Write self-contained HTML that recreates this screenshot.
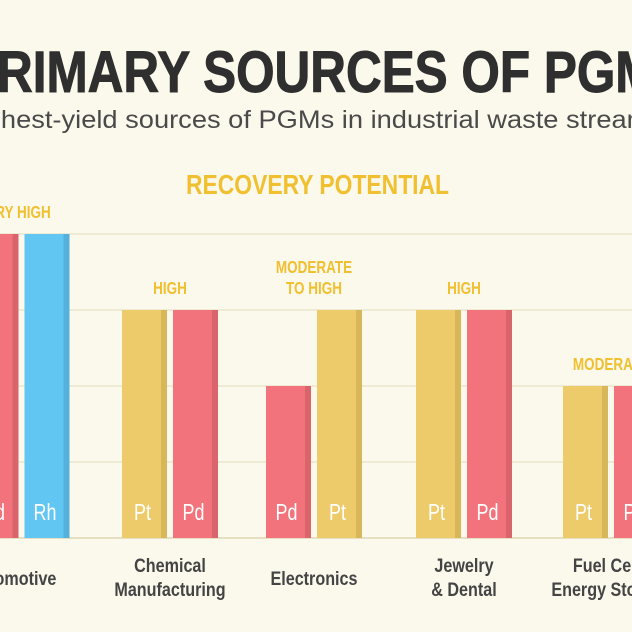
<!DOCTYPE html>
<html><head><meta charset="utf-8"><style>
html,body{margin:0;padding:0;background:#fbf8ec;}
svg{display:block}
</style></head><body>
<svg id="chart" width="632" height="632" viewBox="0 0 632 632">
<rect x="0" y="0" width="632" height="632" fill="#fbf8ec"/>
<text x="-36" y="92" textLength="720" lengthAdjust="spacingAndGlyphs" font-family="'Liberation Sans',sans-serif" font-weight="bold" font-size="58" fill="#2f2f2f" stroke="#2f2f2f" stroke-width="1">PRIMARY SOURCES OF PGMs</text>
<text x="-40" y="128" textLength="703" lengthAdjust="spacingAndGlyphs" font-family="'Liberation Sans',sans-serif" font-size="25" fill="#4a4a4a">Highest-yield sources of PGMs in industrial waste streams</text>
<text x="186" y="194" textLength="263" lengthAdjust="spacingAndGlyphs" font-family="'Liberation Sans',sans-serif" font-weight="bold" font-size="28" fill="#f0c030">RECOVERY POTENTIAL</text>
<g id="grid"></g><g id="bars"></g><g id="labels"></g>
</svg>
<script>
const categories = ["Automotive", "Chemical|Manufacturing", "Electronics", "Jewelry|& Dental", "Fuel Cells|Energy Storage"];
const metals = [["Pt","Pd","Rh"],["Pt","Pd"],["Pd","Pt"],["Pt","Pd"],["Pt","Pd"]];
const values = [[4,4,4],[3,3],[2,3],[3,3],[2,2]];
const potentials = ["VERY HIGH","HIGH","MODERATE|TO HIGH","HIGH","MODERATE"];
const gridTicks = [1,2,3,4];

const NS = "http://www.w3.org/2000/svg";
const baseY = 538, unit = 76, barW = 45, gap = 6, step = 147, firstC = 23;
const colors = {Pt:"#edcb6a", Pd:"#f2737b", Rh:"#62c6f2"};
const shade = {Pt:"#c9a950", Pd:"#c95a62", Rh:"#4aa3cc"};
const yS = v => baseY - v*unit;
const xC = i => firstC + i*step + (i===2 ? -3 : 0);
const mk = (t, a) => { const e = document.createElementNS(NS, t); for (const k in a) e.setAttribute(k, a[k]); return e; };
const squeeze = (el, x, s) => el.setAttribute("transform", "translate(" + x + ",0) scale(" + s + ",1) translate(" + (-x) + ",0)");
const grid = document.getElementById("grid"), bars = document.getElementById("bars"), labels = document.getElementById("labels");

gridTicks.forEach(t => {
  const l = mk("line", {x1:0, x2:632, y1:yS(t), y2:yS(t), stroke:"#ebe5cc", "stroke-width":1.5});
  
  
  grid.appendChild(l);
});
const base = mk("line", {x1:0, x2:632, y1:baseY, y2:baseY, stroke:"#e6dfc2", "stroke-width":2});


grid.appendChild(base);

categories.forEach((c, i) => {
  const n = metals[i].length, total = n*barW + (n-1)*gap;
  const x0 = xC(i) - total/2 + (i===0 ? -27 : 0);
  let maxV = 0;
  metals[i].forEach((m, j) => {
    const v = values[i][j]; maxV = Math.max(maxV, v);
    const x = x0 + j*(barW+gap), y = yS(v);
    const g = mk("g", {});
    
    
    g.appendChild(mk("rect", {x:x, y:y, width:barW, height:baseY-y, fill:colors[m]}));
    g.appendChild(mk("rect", {x:x+barW-6, y:y, width:6, height:baseY-y, fill:shade[m], opacity:0.6}));
    const tx = x+barW/2-2;
    const t = mk("text", {x:tx, y:baseY-18, "text-anchor":"middle", "font-family":"'Liberation Sans',sans-serif", "font-size":23, fill:"#fff"});
    squeeze(t, tx, 0.78);
    t.textContent = m; g.appendChild(t);
    bars.appendChild(g);
  });
  const cx = x0 + total/2;
  const pl = potentials[i].split("|");
  pl.forEach((p, k) => {
    const px = (i===0 ? cx+18 : cx);
    const t = mk("text", {x:px, y:yS(maxV) - 16 - (pl.length-1-k)*21, "text-anchor":"middle", "font-family":"'Liberation Sans',sans-serif", "font-weight":"bold", "font-size":18, fill:"#f0c030"});
    squeeze(t, px, 0.75);
    
    
    t.textContent = p; labels.appendChild(t);
  });
  const cl = c.split("|");
  cl.forEach((p, k) => {
    const yy = cl.length === 1 ? 585 : 572 + k*24;
    const lx = (i===0 ? 12 : cx);
    const t = mk("text", {x:lx, y:yy, "text-anchor":"middle", "font-family":"'Liberation Sans',sans-serif", "font-weight":"bold", "font-size":19, fill:"#444"});
    squeeze(t, lx, 0.85);
    
    
    t.textContent = p; labels.appendChild(t);
  });
});
</script>
</body></html>
